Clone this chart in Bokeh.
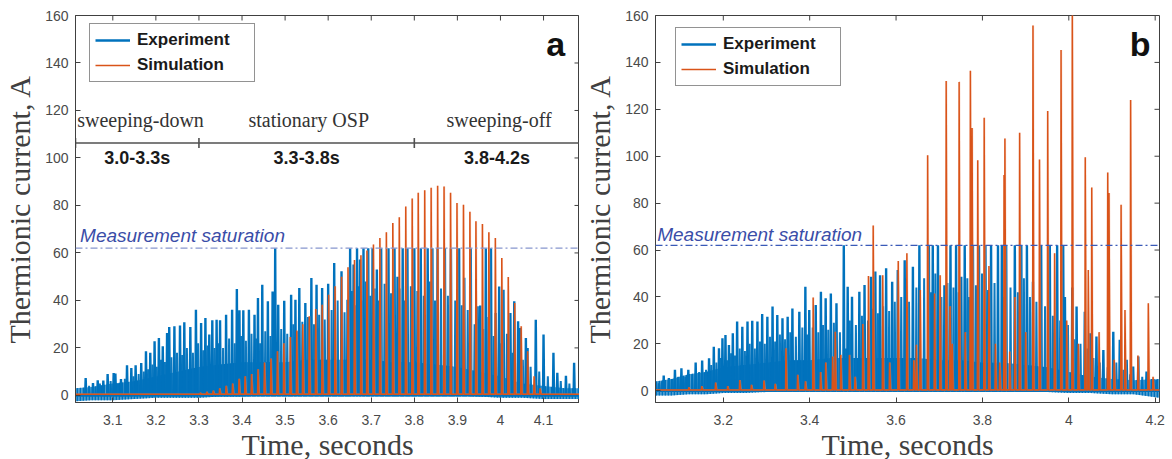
from bokeh.plotting import figure
from bokeh.layouts import row
from bokeh.models import Label, Span, Legend, LegendItem, FixedTicker, CustomJSTickFormatter
from bokeh.embed import file_html
from bokeh.resources import INLINE

# ---------------- data ----------------
SATURATION = 62.0

# Panel a : experiment, main spikes (time s, current A)
exp_a_t = [3.037, 3.054, 3.065, 3.078, 3.088, 3.102, 3.106, 3.119, 3.133, 3.143, 3.153, 3.166,
           3.177, 3.187, 3.197, 3.207, 3.216, 3.226, 3.231, 3.243, 3.256, 3.266, 3.280, 3.293,
           3.305, 3.315, 3.324, 3.331, 3.341, 3.349, 3.363, 3.377, 3.388, 3.394, 3.403, 3.416,
           3.429, 3.437, 3.447, 3.460, 3.471, 3.477, 3.484, 3.498, 3.514, 3.524, 3.533, 3.547,
           3.561, 3.573, 3.586, 3.600, 3.614, 3.631, 3.645, 3.651, 3.659, 3.667, 3.674, 3.682,
           3.693, 3.703, 3.713, 3.723, 3.740, 3.754, 3.761, 3.773, 3.784, 3.800, 3.815, 3.831,
           3.842, 3.854, 3.871, 3.885, 3.904, 3.916, 3.931, 3.947, 3.953, 3.966, 3.978, 3.989,
           3.997, 4.007, 4.023, 4.032, 4.041, 4.046, 4.059, 4.063, 4.082, 4.100, 4.123, 4.132,
           4.152, 4.171]
exp_a_h = [7.3, 5.2, 6.4, 6.2, 9.0, 9.4, 9.2, 6.9, 12.7, 11.5, 12.7, 13.6,
           18.6, 17.9, 22.8, 24.2, 20.7, 26.3, 28.8, 29.1, 29.4, 30.8, 28.8, 36.1,
           30.5, 32.6, 25.6, 31.6, 31.9, 31.6, 34.0, 36.1, 44.8, 35.8, 35.8, 36.1,
           34.0, 41.0, 46.6, 39.6, 43.8, 62.0, 38.2, 39.9, 42.4, 40.3, 45.2, 38.9,
           49.4, 46.6, 45.2, 47.0, 55.8, 52.3, 40.3, 62.0, 55.1, 62.0, 57.2, 62.0,
           62.0, 62.0, 53.0, 62.0, 62.0, 62.0, 50.0, 62.0, 62.0, 62.0, 62.0, 62.0,
           62.0, 62.0, 62.0, 62.0, 62.0, 49.5, 62.0, 37.5, 37.8, 62.0, 62.0, 34.7,
           45.9, 44.5, 34.7, 39.6, 31.2, 28.4, 24.2, 20.0, 31.9, 25.6, 17.9, 9.5,
           8.3, 13.7]
# Panel a : experiment, smaller secondary spikes
exp_a_minor_t = [3.045, 3.070, 3.095, 3.112, 3.128, 3.148, 3.160, 3.172, 3.182, 3.192, 3.202,
                 3.212, 3.221, 3.236, 3.249, 3.261, 3.272, 3.286, 3.298, 3.310, 3.320, 3.336,
                 3.345, 3.356, 3.370, 3.383, 3.398, 3.409, 3.422, 3.433, 3.442, 3.454, 3.466,
                 3.480, 3.491, 3.505, 3.519, 3.528, 3.540, 3.553, 3.567, 3.579, 3.592, 3.608,
                 3.622, 3.638, 3.655, 3.663, 3.670, 3.678, 3.687, 3.698, 3.708, 3.718, 3.731,
                 3.746, 3.766, 3.778, 3.792, 3.807, 3.822, 3.836, 3.848, 3.862, 3.878, 3.895,
                 3.910, 3.924, 3.940, 3.960, 3.972, 3.984, 4.002, 4.015, 4.028, 4.052, 4.070,
                 4.090, 4.110, 4.140, 4.160]
exp_a_minor_h = [4, 5, 6, 5, 7, 8, 9, 10, 11, 13, 12,
                 15, 14, 16, 18, 17, 20, 18, 22, 19, 21, 20,
                 22, 20, 24, 22, 25, 23, 26, 24, 22, 27, 25,
                 12, 28, 26, 30, 27, 31, 33, 30, 34, 32, 36,
                 40, 35, 44, 38, 46, 40, 48, 42, 45, 40, 47,
                 43, 45, 40, 46, 44, 42, 48, 40, 45, 42, 40,
                 38, 36, 30, 28, 33, 25, 22, 26, 18, 15, 12,
                 10, 8, 6, 5]
# Panel a : experiment, dense low-level oscillation band (envelope)
band_a_t = [3.013, 3.05, 3.10, 3.15, 3.20, 3.25, 3.30, 3.35, 3.40, 3.45, 3.50, 3.55, 3.60,
            3.65, 3.70, 3.75, 3.80, 3.85, 3.90, 3.95, 4.00, 4.05, 4.10, 4.15, 4.184]
band_a_hi = [3, 3.5, 5, 6, 8, 10, 12, 13, 14, 14, 14, 15, 15,
             15, 15, 14, 14, 13, 12, 10, 8, 5, 4, 3, 3]
band_a_lo = [-2.5, -2, -2, -1.5, -1, -1, -1, -0.5, -0.5, 0, 0, 0, 0,
             0.5, 0.5, 0.5, 0.5, 0, 0, -0.5, -1, -1, -1.5, -1.5, -1.5]

# Panel a : simulation spikes
sim_a_t = [3.303, 3.318, 3.333, 3.348, 3.363, 3.378, 3.393, 3.407, 3.422, 3.437, 3.452, 3.467,
           3.482, 3.497, 3.512, 3.527, 3.541, 3.556, 3.571, 3.586, 3.601, 3.616, 3.631, 3.646,
           3.661, 3.676, 3.690, 3.705, 3.720, 3.735, 3.750, 3.765, 3.780, 3.795, 3.809, 3.824,
           3.839, 3.854, 3.869, 3.884, 3.899, 3.914, 3.929, 3.943, 3.958, 3.973, 3.988, 4.003,
           4.018, 4.033, 4.048, 4.063, 4.078, 4.092]
sim_a_h = [1, 1.5, 2, 3, 4, 5, 7, 8, 9, 11, 13.8, 15.5,
           18.6, 22, 24.6, 27.3, 30, 33.3, 36.4, 38.2, 42.4, 46, 50, 54,
           57, 59, 61, 63.5, 66.3, 68.7, 72.6, 75, 79.6, 82.9, 85.3, 86.4,
           87.4, 88.3, 88, 85.3, 81, 80.3, 77.3, 73.3, 72.2, 68.7, 66.3, 57.9,
           49.9, 38.9, 29.1, 18.6, 8, 3]

# Panel b : experiment, main spikes
exp_b_t = [3.051, 3.062, 3.074, 3.088, 3.103, 3.119, 3.136, 3.151, 3.167, 3.178, 3.190, 3.198,
           3.205, 3.213, 3.222, 3.232, 3.244, 3.256, 3.267, 3.279, 3.290, 3.302, 3.314, 3.325,
           3.337, 3.349, 3.360, 3.376, 3.390, 3.399, 3.414, 3.426, 3.437, 3.449, 3.462, 3.479,
           3.488, 3.498, 3.515, 3.527, 3.542, 3.552, 3.563, 3.577, 3.591, 3.604, 3.620, 3.639,
           3.654, 3.676, 3.685, 3.697, 3.712, 3.726, 3.739, 3.751, 3.759, 3.778, 3.792, 3.807,
           3.820, 3.836, 3.845, 3.855, 3.875, 3.890, 3.903, 3.917, 3.936, 3.956, 3.973, 3.987,
           3.991, 4.008, 4.018, 4.037, 4.049, 4.064, 4.080, 4.103, 4.118, 4.134, 4.149, 4.161,
           4.180, 4.203]
exp_b_h = [3.2, 6.5, 5.4, 8.9, 9.6, 8.9, 12.0, 12.9, 13.9, 18.8, 18.1, 22.4,
           23.8, 19.5, 24.5, 29.5, 27.3, 29.5, 29.9, 29.5, 32.7, 31.6, 35.9, 32.3,
           30.9, 31.6, 35.1, 33.7, 44.4, 34.4, 36.6, 42.2, 39.4, 41.5, 37.3, 62.0,
           44.4, 40.1, 42.2, 45.1, 48.6, 50.8, 49.3, 52.2, 46.5, 51.5, 55.7, 52.9,
           62.0, 62.0, 62.0, 62.0, 45.0, 62.0, 62.0, 48.6, 62.0, 62.0, 62.0, 62.0,
           62.0, 62.0, 62.0, 62.0, 62.0, 62.0, 62.0, 46.5, 62.0, 62.0, 62.0, 62.0,
           40.0, 44.0, 35.9, 33.7, 24.5, 23.1, 17.4, 25.2, 21.7, 13.2, 10.3, 14.6,
           8.2, 4.6]
exp_b_minor_t = [3.058, 3.082, 3.096, 3.112, 3.128, 3.144, 3.160, 3.172, 3.184, 3.194, 3.209,
                 3.218, 3.227, 3.238, 3.250, 3.261, 3.273, 3.285, 3.296, 3.308, 3.320, 3.331,
                 3.343, 3.355, 3.368, 3.383, 3.394, 3.407, 3.420, 3.431, 3.443, 3.456, 3.470,
                 3.484, 3.493, 3.507, 3.521, 3.535, 3.547, 3.558, 3.570, 3.584, 3.597, 3.612,
                 3.630, 3.647, 3.665, 3.681, 3.691, 3.705, 3.719, 3.733, 3.745, 3.765, 3.770,
                 3.785, 3.799, 3.813, 3.828, 3.850, 3.865, 3.882, 3.896, 3.910, 3.925, 3.945,
                 3.963, 3.980, 3.998, 4.013, 4.027, 4.043, 4.057, 4.072, 4.090, 4.110, 4.126,
                 4.142, 4.170, 4.192]
exp_b_minor_h = [4, 5, 6, 6, 7, 8, 9, 11, 12, 14, 13,
                 16, 15, 18, 17, 20, 18, 21, 20, 23, 21, 24,
                 22, 25, 23, 27, 24, 27, 25, 28, 26, 29, 25,
                 18, 30, 28, 32, 30, 35, 33, 36, 34, 38, 40,
                 38, 44, 48, 42, 50, 40, 46, 44, 42, 48, 40,
                 45, 50, 43, 46, 40, 44, 42, 48, 40, 38, 36,
                 32, 30, 28, 22, 20, 18, 14, 12, 10, 12, 9,
                 7, 6, 5]
band_b_t = [3.043, 3.08, 3.12, 3.16, 3.20, 3.25, 3.30, 3.35, 3.40, 3.45, 3.50, 3.55, 3.60,
            3.65, 3.70, 3.75, 3.80, 3.85, 3.90, 3.95, 4.00, 4.05, 4.10, 4.15, 4.21]
band_b_hi = [4, 5, 7, 8, 10, 11, 12, 13, 13, 14, 14, 14, 14,
             14, 13, 13, 12, 12, 11, 10, 8, 6, 5, 4.5, 5]
band_b_lo = [-2, -2, -1.5, -1.5, -1, -1, -0.5, -0.5, 0, 0, 0, 0, 0,
             0, 0, 0, 0, 0, 0, -0.5, -1, -1, -1.5, -1.5, -3]

sim_b_t = [3.120, 3.150, 3.182, 3.210, 3.238, 3.265, 3.294, 3.320, 3.345, 3.372, 3.390, 3.408,
           3.425, 3.437, 3.453, 3.459, 3.472, 3.492, 3.505, 3.523, 3.536, 3.547, 3.569, 3.585,
           3.605, 3.625, 3.641, 3.647, 3.656, 3.673, 3.689, 3.702, 3.716, 3.725, 3.730, 3.746,
           3.760, 3.772, 3.776, 3.789, 3.804, 3.815, 3.830, 3.840, 3.850, 3.852, 3.863, 3.875,
           3.886, 3.900, 3.917, 3.932, 3.951, 3.967, 3.982, 3.995, 4.008, 4.022, 4.038, 4.045,
           4.053, 4.070, 4.090, 4.093, 4.105, 4.121, 4.130, 4.143, 4.160, 4.184, 4.195]
sim_b_h = [1.5, 2, 3.5, 2, 4.6, 2.5, 4.4, 3, 18.1, 6.8, 4, 39.8,
           8, 12, 14.6, 25.2, 15.3, 15.3, 6, 28.5, 48.9, 70.5, 49.3, 12,
           55.3, 58.6, 13, 19.6, 43, 100.4, 41.5, 49.3, 132.1, 36, 20, 131.7,
           25, 136.4, 112, 98.3, 116.4, 53.2, 20, 12, 92, 107.6, 16.7, 40,
           110, 25, 155.7, 98.6, 119.3, 58.6, 145.3, 30, 165, 20, 99.6, 51.5,
           86.7, 25, 93.1, 84.3, 13.2, 79.3, 34.4, 124, 15, 37.3, 6]

x_ticks_a = [3.1, 3.2, 3.3, 3.4, 3.5, 3.6, 3.7, 3.8, 3.9, 4.0, 4.1]
x_ticks_b = [3.2, 3.4, 3.6, 3.8, 4.0, 4.2]
y_ticks = [0, 20, 40, 60, 80, 100, 120, 140, 160]

phase_edges = [3.3, 3.8]
phase_names = ["sweeping-down", "stationary OSP", "sweeping-off"]
phase_ranges = ["3.0-3.3s", "3.3-3.8s", "3.8-4.2s"]

# ---------------- styling ----------------
BLUE = "#0072BD"
ORANGE = "#D95319"
AX = "#404040"
TICKF = "Liberation Sans"
SERIF = "Liberation Serif"
FW, FH = 504, 387


def spike_xy(ts, hs, base, rise, fall, x0, x1):
    pairs = sorted(zip(ts, hs))
    xs, ys = [x0], [base]
    for t, h in pairs:
        xs += [t - rise, t, t + fall]
        ys += [base, h, base]
    xs.append(x1)
    ys.append(base)
    return xs, ys


def make_panel(xr, yr, xt, exp_t, exp_h, emin_t, emin_h, bt, blo, bhi, st, sh, sim_base,
               letter, letter_xy, sat_color, sat_text_xy, legend_loc,
               bl, br, bt_top, bb):
    p = figure(frame_width=FW, frame_height=FH, x_range=xr, y_range=yr,
               output_backend="svg", toolbar_location=None,
               min_border_left=bl, min_border_right=br, min_border_top=bt_top,
               min_border_bottom=bb)
    p.xgrid.visible = False
    p.ygrid.visible = False
    p.outline_line_color = AX
    p.outline_line_width = 1
    p.background_fill_color = "white"
    p.border_fill_color = "white"

    fmt = CustomJSTickFormatter(code="return Number(tick.toFixed(1)).toString();")
    p.xaxis.ticker = FixedTicker(ticks=xt)
    p.xaxis.formatter = fmt
    p.yaxis.ticker = FixedTicker(ticks=y_ticks)
    for ax in (p.xaxis[0], p.yaxis[0]):
        ax.major_tick_in = 5
        ax.major_tick_out = 0
        ax.minor_tick_line_color = None
        ax.axis_line_color = AX
        ax.major_tick_line_color = AX
        ax.major_label_text_font = TICKF
        ax.major_label_text_font_size = "14px"
        ax.major_label_text_color = "#4a4a4a"
        ax.axis_label_text_font = SERIF
        ax.axis_label_text_font_size = "30px"
        ax.axis_label_text_font_style = "normal"
        ax.axis_label_text_color = "#404040"
    p.xaxis.axis_label = "Time, seconds"
    p.yaxis.axis_label = "Thermionic current, A"
    p.xaxis.major_label_standoff = 12
    p.xaxis.axis_label_standoff = 0
    p.yaxis.major_label_standoff = 7
    p.yaxis.axis_label_standoff = 6

    # mirrored tick marks on top and right frame edges
    dx = 5.0 * (xr[1] - xr[0]) / FW
    dy = 5.0 * (yr[1] - yr[0]) / FH
    p.segment(x0=xt, y0=[yr[1]] * len(xt), x1=xt, y1=[yr[1] - dy] * len(xt),
              line_color=AX, line_width=1)
    p.segment(x0=[xr[1]] * len(y_ticks), y0=y_ticks, x1=[xr[1] - dx] * len(y_ticks),
              y1=y_ticks, line_color=AX, line_width=1)

    # experiment: dense band + spikes
    p.varea(x=bt, y1=blo, y2=bhi, fill_color=BLUE, fill_alpha=0.7,
            hatch_pattern="|", hatch_color=BLUE, hatch_scale=3, hatch_weight=1.6,
            hatch_alpha=1.0)
    mx, my = spike_xy(emin_t, emin_h, 0.0, 0.0013, 0.0015, xr[0], xr[1])
    p.line(mx, my, line_color=BLUE, line_width=2.0, line_alpha=0.95)
    ex, ey = spike_xy(exp_t, exp_h, 0.0, 0.0012, 0.0014, xr[0], xr[1])
    r_exp = p.line(ex, ey, line_color=BLUE, line_width=2.4)

    # simulation
    sx, sy = spike_xy(st, sh, sim_base, 0.0009, 0.0022, xr[0], xr[1])
    p.line([x + 0.0011 for x in sx], sy, line_color="#F2A88A", line_width=1.5, line_alpha=0.45)
    r_sim = p.line(sx, sy, line_color=ORANGE, line_width=1.5)

    # saturation level
    p.add_layout(Span(location=SATURATION, dimension="width", line_color=sat_color,
                      line_width=1.3, line_dash="7 3 2 3"))
    p.add_layout(Label(x=sat_text_xy[0], y=sat_text_xy[1], text="Measurement saturation",
                       text_font=TICKF, text_font_style="italic", text_font_size="19px",
                       text_color="#3A4DA8", text_baseline="alphabetic", text_align="left"))

    p.add_layout(Label(x=letter_xy[0], y=letter_xy[1], text=letter, text_font=TICKF,
                       text_font_style="bold", text_font_size="34px", text_color="#111111",
                       text_align="center", text_baseline="alphabetic"))

    leg = Legend(items=[LegendItem(label="Experiment", renderers=[r_exp]),
                        LegendItem(label="Simulation", renderers=[r_sim])],
                 location=legend_loc, margin=0, padding=5, spacing=3,
                 label_height=22, glyph_height=22, glyph_width=35, label_standoff=7,
                 label_width=112,
                 label_text_font=TICKF, label_text_font_style="bold",
                 label_text_font_size="17px", label_text_color="#1a1a1a",
                 border_line_color="#262626", border_line_width=1,
                 background_fill_color="white", background_fill_alpha=1.0)
    p.add_layout(leg)
    return p


XA = (3.0134, 4.1835)
XB = (3.043, 4.21)
pa = make_panel(XA, (-3, 160), x_ticks_a,
                exp_a_t, exp_a_h, exp_a_minor_t, exp_a_minor_h,
                band_a_t, band_a_lo, band_a_hi, sim_a_t, sim_a_h, 0.5,
                "a", (4.128, 147.8), "#8796CE", (3.024, 67.4), (14, 320),
                70, 0, 15, 44)
pb = make_panel(XB, (-5, 160), x_ticks_b,
                exp_b_t, exp_b_h, exp_b_minor_t, exp_b_minor_h,
                band_b_t, band_b_lo, band_b_hi, sim_b_t, sim_b_h, 0.3,
                "b", (4.165, 148.0), "#3A5AB8", (3.047, 66.8), (20, 316),
                76, 10, 13, 46)

# phase annotations on panel a
edges = [XA[0]] + phase_edges + [XA[1]]
pa.add_layout(Span(location=106.3, dimension="width", line_color="#505050", line_width=1.6))
pa.segment(x0=edges, y0=[104.2] * len(edges), x1=edges, y1=[108.4] * len(edges),
           line_color="#505050", line_width=1.6)
mids = [(edges[i] + edges[i + 1]) / 2 for i in range(len(edges) - 1)]
for i, (nm, rg) in enumerate(zip(phase_names, phase_ranges)):
    if i == 0:
        pa.add_layout(Label(x=XA[0] + 0.004, y=115.8, text=nm, text_font=SERIF,
                            text_font_size="20px", text_color="#333333", text_align="left",
                            text_baseline="alphabetic"))
    else:
        pa.add_layout(Label(x=mids[i] + 0.005, y=115.8, text=nm, text_font=SERIF,
                            text_font_size="20px", text_color="#333333", text_align="center",
                            text_baseline="alphabetic"))
    pa.add_layout(Label(x=mids[i], y=100, text=rg, text_font=TICKF, text_font_style="bold",
                        text_font_size="18px", text_color="#1a1a1a", text_align="center",
                        text_baseline="middle"))

layout = row(pa, pb)
open("out.html", "w").write(file_html(layout, INLINE))
